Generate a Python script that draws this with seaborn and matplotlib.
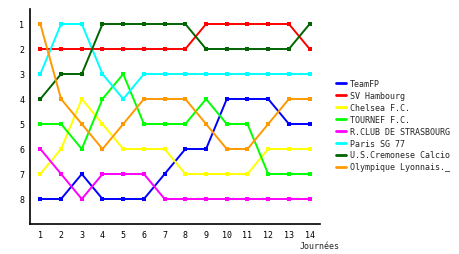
import matplotlib
matplotlib.use("Agg")
import matplotlib.pyplot as plt
import seaborn as sns
import pandas as pd

journees = list(range(1, 15))
teams = ["TeamFP", "SV Hambourg", "Chelsea F.C.", "TOURNEF F.C.",
         "R.CLUB DE STRASBOURG", "Paris SG 77", "U.S.Cremonese Calcio",
         "Olympique Lyonnais._"]
teamfp     = [8, 8, 7, 8, 8, 8, 7, 6, 6, 4, 4, 4, 5, 5]
hambourg   = [2, 2, 2, 2, 2, 2, 2, 2, 1, 1, 1, 1, 1, 2]
chelsea    = [7, 6, 4, 5, 6, 6, 6, 7, 7, 7, 7, 6, 6, 6]
tournef    = [5, 5, 6, 4, 3, 5, 5, 5, 4, 5, 5, 7, 7, 7]
strasbourg = [6, 7, 8, 7, 7, 7, 8, 8, 8, 8, 8, 8, 8, 8]
paris      = [3, 1, 1, 3, 4, 3, 3, 3, 3, 3, 3, 3, 3, 3]
cremonese  = [4, 3, 3, 1, 1, 1, 1, 1, 2, 2, 2, 2, 2, 1]
lyon       = [1, 4, 5, 6, 5, 4, 4, 4, 5, 6, 6, 5, 4, 4]
series = [teamfp, hambourg, chelsea, tournef, strasbourg, paris, cremonese, lyon]
colors = ["#0000ff", "#ff0000", "#ffff00", "#00ff00", "#ff00ff", "#00ffff",
          "#006400", "#ff9900"]
rank_ticks = [1, 2, 3, 4, 5, 6, 7, 8]

rows = []
for t, vals in zip(teams, series):
    for j, v in zip(journees, vals):
        rows.append({"Journée": j, "Rang": v, "Equipe": t})
df = pd.DataFrame(rows)

sns.set_theme(style="white")
plt.rcParams["font.family"] = ["DejaVu Sans Mono"]

fig = plt.figure(figsize=(4.6, 2.55), dpi=100)
ax = fig.add_axes([30 / 460, 30 / 255, 290 / 460, 215 / 255])
sns.lineplot(data=df, x="Journée", y="Rang", hue="Equipe", hue_order=teams,
             palette=colors, marker="s", markersize=3, markeredgewidth=0,
             linewidth=1.4, ax=ax, legend=True)
ax.set_xlim(0.5, 14.5)
ax.set_ylim(9, 0.4)
ax.set_xticks(journees)
ax.set_yticks(rank_ticks)
ax.tick_params(axis="both", length=0, labelsize=6, pad=4, colors="black")
for s in ["top", "right"]:
    ax.spines[s].set_visible(False)
for s in ["left", "bottom"]:
    ax.spines[s].set_color("black")
    ax.spines[s].set_linewidth(1.2)
ax.set_xlabel("")
ax.set_ylabel("")
fig.text(300 / 460, 1 - 247 / 255, "Journées", fontsize=6, va="center",
         ha="left", family="DejaVu Sans Mono")

handles, labels = ax.get_legend_handles_labels()
ax.legend(handles, labels, loc="upper left", bbox_to_anchor=(336 / 460, 1 - 80 / 255),
          bbox_transform=fig.transFigure, frameon=False, fontsize=6,
          handlelength=1.2, handletextpad=0.5, labelspacing=0.35,
          borderaxespad=0, borderpad=0)
leg = ax.get_legend()
for h in leg.legend_handles:
    h.set_marker("")
    h.set_linewidth(2)

fig.savefig("out.png", dpi=100)
